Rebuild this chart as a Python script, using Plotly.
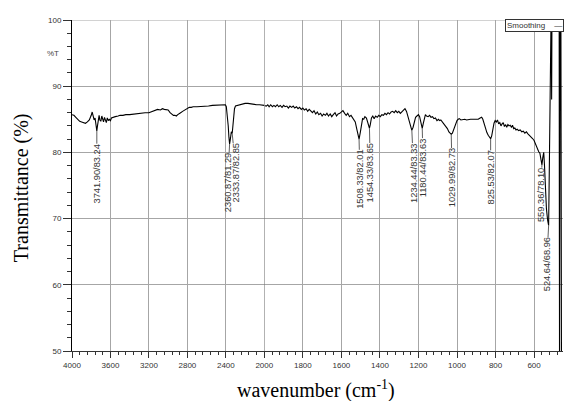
import plotly.graph_objects as go

# ---------------- data ----------------
wavenumber = [
    4000, 3980, 3960, 3940, 3920, 3900, 3880, 3860, 3840, 3820, 3800, 3790, 3780, 3770, 3760, 3750,
    3741.9, 3735, 3725, 3718, 3710, 3700, 3690, 3680, 3672, 3662, 3652, 3643, 3633, 3622, 3612, 3600,
    3590, 3575, 3550, 3520, 3500, 3470, 3440, 3400, 3360, 3320, 3280, 3240, 3200, 3170, 3140, 3110,
    3080, 3060, 3040, 3020, 3000, 2980, 2960, 2945, 2930, 2915, 2900, 2885, 2870, 2850, 2830, 2800,
    2780, 2760, 2740, 2700, 2660, 2620, 2580, 2540, 2500, 2460, 2420, 2405, 2395, 2385, 2375, 2368,
    2360.87, 2355, 2348, 2343, 2339, 2333.87, 2328, 2320, 2310, 2300, 2280, 2260, 2230, 2200, 2170,
    2140, 2110, 2080, 2050, 2025, 2000,
    1990, 1982, 1975, 1967, 1958, 1950, 1942, 1933, 1925, 1917, 1908, 1900, 1892, 1883, 1875, 1867,
    1858, 1850, 1842, 1833, 1825, 1817, 1808, 1800, 1792, 1783, 1775, 1767, 1758, 1750, 1742, 1733,
    1725, 1717, 1708, 1700, 1692, 1683, 1675, 1667, 1658, 1650, 1642, 1633, 1625, 1617, 1608, 1600,
    1592, 1583, 1575, 1567, 1558, 1550, 1542, 1535, 1528, 1520, 1514, 1508.33, 1502, 1496, 1490, 1484,
    1478, 1470, 1463, 1458, 1454.33, 1450, 1444, 1437, 1430, 1422, 1414, 1406, 1398, 1390, 1382, 1374,
    1366, 1358, 1350, 1342, 1334, 1326, 1318, 1310, 1302, 1294, 1286, 1278, 1270, 1262, 1255, 1248,
    1241, 1234.44, 1228, 1222, 1215, 1208, 1200, 1194, 1188, 1180.44, 1175, 1170, 1164, 1158, 1150, 1142,
    1135, 1127, 1120, 1112, 1104, 1096, 1090, 1084, 1076, 1068, 1060, 1050, 1042, 1036, 1029.99, 1024,
    1018, 1012, 1006, 1000, 994, 988, 980, 970, 960, 950, 940, 930, 920, 910, 900, 890,
    880, 872, 866, 860, 852, 845, 838, 832, 825.53, 820, 814, 808, 802, 796, 790, 784,
    778, 772, 766, 760, 754, 748, 742, 736, 730, 724, 718, 712, 706, 700, 694, 688,
    680, 672, 664, 656, 648, 640, 632, 624, 616, 608, 600, 594, 588, 582, 576, 570,
    565, 559.36, 555, 550, 546, 541, 536, 530, 524.64, 520, 516, 513, 511, 509, 507, 470,
    468, 465, 461, 458, 450,
]
transmittance = [
    85.7, 85.6, 85.3, 85.0, 84.7, 84.6, 84.5, 84.4, 84.6, 84.9, 85.6, 86.1, 85.5, 84.9, 85.2, 84.3,
    83.24, 84.0, 85.3, 85.6, 84.9, 84.7, 85.5, 84.8, 84.6, 85.3, 84.7, 84.5, 85.2, 84.8, 85.0, 84.8,
    85.2, 85.3, 85.4, 85.5, 85.6, 85.6, 85.7, 85.7, 85.8, 85.9, 85.9, 86.0, 86.0, 86.2, 86.4, 86.5,
    86.4, 86.6, 86.5, 86.4, 86.4, 86.0, 85.7, 85.6, 85.6, 85.5, 85.7, 85.8, 86.0, 86.2, 86.4, 86.6,
    86.8, 86.8, 86.9, 86.9, 86.9, 87.0, 87.0, 87.1, 87.1, 87.1, 87.1, 87.2, 86.9, 85.8, 84.0, 82.3,
    81.29, 81.8, 82.6, 83.1, 83.0, 82.85, 83.8, 85.6, 86.6, 87.0, 87.1, 87.2, 87.3, 87.4, 87.4,
    87.3, 87.3, 87.2, 87.2, 87.1, 87.1,
    87.0, 87.2, 86.9, 87.2, 86.9, 87.1, 86.9, 87.2, 86.9, 87.1, 86.8, 87.1, 86.9, 87.0, 86.7, 87.0,
    86.8, 87.0, 86.7, 86.9, 86.6, 86.8, 86.5, 86.7, 86.4, 86.6, 86.2, 86.5, 86.3, 86.0, 86.3, 85.8,
    86.1, 85.7, 85.9, 85.5, 85.8, 85.6, 85.9, 85.5, 85.8, 85.4, 85.7, 86.0, 85.5, 85.8, 85.9, 86.1,
    86.3, 85.9, 85.6, 85.9, 85.4, 85.6, 85.3, 84.9, 84.6, 83.5, 82.4, 82.01, 83.0, 84.5, 85.1, 85.0,
    85.4, 85.2, 84.6, 84.0, 83.65, 84.2, 85.2, 85.5, 85.1, 85.5, 85.3, 85.6, 85.4, 85.7, 85.6, 85.9,
    85.7, 86.0, 85.8, 86.1, 86.2, 86.0, 86.3, 86.0, 86.2, 85.9, 86.1, 86.4, 86.6, 86.2, 85.5, 84.6,
    83.8, 83.33, 83.8, 84.6, 85.3, 85.5, 85.7, 85.4, 84.4, 83.63, 84.4, 85.3, 85.7, 85.5, 85.4, 85.6,
    85.3, 85.4, 85.1, 85.2, 84.8, 85.0, 84.8, 84.9, 84.6, 84.4, 84.1, 83.6, 83.1, 82.9, 82.73, 82.9,
    83.4, 83.9, 84.4, 84.8, 85.0, 85.1, 84.9, 85.0, 85.0, 84.9, 85.0, 85.0, 85.0, 85.0, 85.1, 85.0,
    85.2, 85.3, 85.0, 84.3, 83.5, 83.0, 82.6, 82.3, 82.07, 82.5, 83.6, 84.4, 84.8, 84.6, 84.9, 84.3,
    84.5, 84.0, 84.3, 84.5, 83.9, 84.2, 83.8, 84.2, 84.0, 84.1, 83.8, 84.1, 83.6, 83.7, 83.4, 83.5,
    83.3, 83.4, 83.1, 83.2, 82.9, 83.1, 82.8, 82.6, 82.4, 82.1, 81.8, 81.3, 80.8, 80.4, 80.1, 79.9,
    79.0, 78.10, 79.2, 80.0, 78.0, 74.5, 71.5, 69.8, 68.96, 80.0, 103, 103, 103, 88, 103, 103,
    48, 103, 103, 48, 48,
]

peak_wn = [3741.90, 2360.87, 2333.87, 1508.33, 1454.33, 1234.44, 1180.44, 1029.99, 825.53, 559.36, 524.64]
peak_t = [83.24, 81.29, 82.85, 82.01, 83.65, 83.33, 83.63, 82.73, 82.07, 78.10, 68.96]

x_ticks_high = [4000, 3600, 3200, 2800, 2400]
x_ticks_low = [2000, 1800, 1600, 1400, 1200, 1000, 800, 600]
y_ticks = [50, 60, 70, 80, 90, 100]

# ---------------- layout helpers (styles / offsets) ----------------
label_gap = [13, 9, 10, 11, 15, 13, 10, 14, 12, 3, 12]
label_dx = [0, -2, 4, 1, 1, 2, 1, 1, 0, -1, -2]
LABEL_SIZE = 9.3

SPLIT = 2000
SPLIT_FRAC = 192.3 / 491.0

hi_x = [w for w in wavenumber if w >= SPLIT]
hi_y = [t for w, t in zip(wavenumber, transmittance) if w >= SPLIT]
lo_x = [w for w in wavenumber if w <= SPLIT]
lo_y = [t for w, t in zip(wavenumber, transmittance) if w <= SPLIT]

line_style = dict(color="black", width=1.1)

fig = go.Figure()
fig.add_trace(go.Scatter(x=hi_x, y=hi_y, mode="lines", line=line_style, xaxis="x", yaxis="y",
                         showlegend=False, hoverinfo="skip"))
fig.add_trace(go.Scatter(x=lo_x, y=lo_y, mode="lines", line=line_style, xaxis="x2", yaxis="y",
                         showlegend=False, hoverinfo="skip"))

tick_font = dict(family="Arial, Liberation Sans, sans-serif", size=8, color="#333")
grid_col = "#a6a6a6"

common_x = dict(
    showline=True, linecolor="#333", linewidth=1,
    ticks="outside", ticklen=6, tickcolor="#333", tickwidth=1,
    showgrid=True, gridcolor=grid_col, gridwidth=1,
    zeroline=False, tickfont=tick_font, anchor="y",
)

fig.update_layout(
    width=564, height=401,
    margin=dict(l=72, r=1, t=20, b=50),
    paper_bgcolor="white", plot_bgcolor="white",
    xaxis=dict(domain=[0, SPLIT_FRAC], range=[4000, SPLIT], tickmode="array",
               tickvals=x_ticks_high, ticktext=[str(v) for v in x_ticks_high],
               minor=dict(dtick=80, tick0=4000, ticks="outside", ticklen=3, tickcolor="#333",
                          showgrid=False),
               **common_x),
    xaxis2=dict(domain=[SPLIT_FRAC, 1], range=[SPLIT, 450], tickmode="array",
                tickvals=x_ticks_low, ticktext=[str(v) for v in x_ticks_low],
                minor=dict(dtick=40, tick0=0, ticks="outside", ticklen=3, tickcolor="#333",
                           showgrid=False),
                **common_x),
    yaxis=dict(range=[50, 100], tickmode="array", tickvals=y_ticks,
               ticktext=[str(v) for v in y_ticks],
               showline=True, linecolor="black", linewidth=1,
               ticks="outside", ticklen=8, tickcolor="#333",
               minor=dict(dtick=2, ticks="outside", ticklen=4, tickcolor="#333", showgrid=False),
               showgrid=True, gridcolor=grid_col, gridwidth=1, zeroline=False,
               tickfont=tick_font),
)

# top frame line
fig.add_shape(type="line", xref="paper", yref="y", x0=0, x1=1, y0=100, y1=100,
              line=dict(color=grid_col, width=1))
# darker line at the scale change
fig.add_shape(type="line", xref="x2", yref="paper", x0=SPLIT, x1=SPLIT, y0=0, y1=1,
              line=dict(color="#777", width=1))

ARIAL_W = {".": 0.278, "/": 0.278}


def text_len(s, size):
    return sum(ARIAL_W.get(c, 0.556) for c in s) * size


annotations = []
label_font = dict(family="Arial, Liberation Sans, sans-serif", size=LABEL_SIZE, color="#333")
for w, t, gap, dx in zip(peak_wn, peak_t, label_gap, label_dx):
    txt = f"{w:.2f}/{t:.2f}"
    annotations.append(dict(
        x=w, y=t, xref="x" if w > SPLIT else "x2", yref="y",
        text=txt, textangle=-90, font=label_font,
        showarrow=True, arrowhead=0, arrowwidth=0.8, arrowcolor="#333",
        ax=dx, ay=gap + text_len(txt, LABEL_SIZE) / 2, borderpad=0, standoff=0,
    ))

serif = "Liberation Serif, Times New Roman, serif"
annotations += [
    dict(text="Transmittance (%)", xref="paper", yref="paper", x=-51 / 491, y=0.492,
         textangle=-90, showarrow=False, font=dict(family=serif, size=20, color="black"),
         xanchor="center", yanchor="middle"),
    dict(text="wavenumber (cm<sup>-1</sup>)", xref="paper", yref="paper", x=0.497, y=-0.115,
         showarrow=False, font=dict(family=serif, size=20, color="black"),
         xanchor="center", yanchor="middle"),
    dict(text="%T", xref="paper", yref="paper", x=-11 / 491, y=0.90, showarrow=False,
         font=dict(family="Arial, Liberation Sans, sans-serif", size=8, color="#444"),
         xanchor="right", yanchor="middle"),
    dict(text="Smoothing    \u2014", xref="paper", yref="paper", x=1 + 1 / 491, y=1 + 1 / 330.7,
         showarrow=False, font=dict(family="Arial, Liberation Sans, sans-serif", size=8, color="#333"),
         xanchor="right", yanchor="top", bgcolor="white", bordercolor="#333", borderwidth=1,
         borderpad=1),
]
fig.update_layout(annotations=annotations)

fig.write_html("out.html")
